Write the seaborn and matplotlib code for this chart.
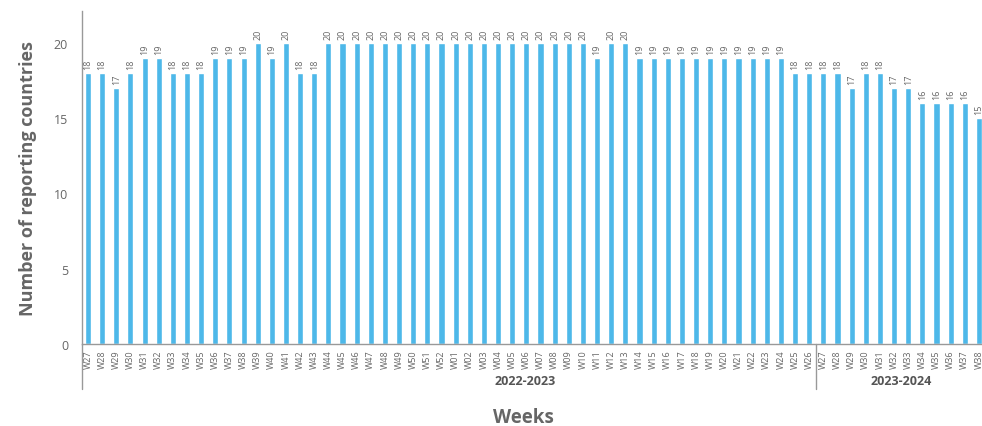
import matplotlib
matplotlib.use("Agg")
import matplotlib.pyplot as plt
import matplotlib.transforms as mtransforms
import seaborn as sns
import pandas as pd

season1_weeks = ["W27", "W28", "W29", "W30", "W31", "W32", "W33", "W34", "W35", "W36",
                 "W37", "W38", "W39", "W40", "W41", "W42", "W43", "W44", "W45", "W46",
                 "W47", "W48", "W49", "W50", "W51", "W52", "W01", "W02", "W03", "W04",
                 "W05", "W06", "W07", "W08", "W09", "W10", "W11", "W12", "W13", "W14",
                 "W15", "W16", "W17", "W18", "W19", "W20", "W21", "W22", "W23", "W24",
                 "W25", "W26"]
season1_values = [18, 18, 17, 18, 19, 19, 18, 18, 18, 19,
                  19, 19, 20, 19, 20, 18, 18, 20, 20, 20,
                  20, 20, 20, 20, 20, 20, 20, 20, 20, 20,
                  20, 20, 20, 20, 20, 20, 19, 20, 20, 19,
                  19, 19, 19, 19, 19, 19, 19, 19, 19, 19,
                  18, 18]
season2_weeks = ["W27", "W28", "W29", "W30", "W31", "W32", "W33", "W34", "W35", "W36",
                 "W37", "W38"]
season2_values = [18, 18, 17, 18, 18, 17, 17, 16, 16, 16, 16, 15]
seasons = ["2022-2023", "2023-2024"]

df = pd.DataFrame({
    "season": [seasons[0]] * len(season1_weeks) + [seasons[1]] * len(season2_weeks),
    "week": season1_weeks + season2_weeks,
    "value": season1_values + season2_values,
})
df["key"] = df["season"] + " " + df["week"]

sns.set_theme(style="white")
plt.rcParams["font.family"] = ["Open Sans", "DejaVu Sans"]

grey = "#666666"
fig = plt.figure(figsize=(9.82, 4.27), dpi=100)
ax = fig.add_axes([82 / 982, 1 - 345 / 427, 900 / 982, 333 / 427])

sns.barplot(data=df, x="key", y="value", color="#4DB8E9", saturation=1,
            width=0.43, ax=ax, order=list(df["key"]))

for i, v in enumerate(df["value"]):
    ax.text(i, v + 0.25, str(v), rotation=90, ha="center", va="bottom",
            fontsize=6.5, color=grey)

ax.set_xticks(range(len(df)))
ax.set_xticklabels(df["week"], rotation=90, fontsize=6.5, color=grey)
ax.tick_params(axis="x", length=0, pad=4)
ax.set_ylim(0, 22.1)
ax.set_xlim(-0.424, 63.22)
ax.set_yticks([0, 5, 10, 15, 20])
ax.tick_params(axis="y", length=0, pad=10, labelsize=9, labelcolor=grey)
ax.set_xlabel("")
ax.set_ylabel("Number of reporting countries", fontsize=13, color=grey,
              fontweight="bold", labelpad=12)

for s in ["top", "right"]:
    ax.spines[s].set_visible(False)
for s in ["left", "bottom"]:
    ax.spines[s].set_color("#999999")
    ax.spines[s].set_linewidth(1)

trans = mtransforms.blended_transform_factory(ax.transData, ax.transAxes)
n1 = len(season1_weeks)
for xpos in [-0.424, n1 - 0.5]:
    ax.plot([xpos, xpos], [0, -0.135], transform=trans, color="#999999",
            lw=1, clip_on=False)

ax.text(30.9, -0.11, seasons[0], transform=trans, ha="center", va="center",
        fontsize=9, fontweight="bold", color="#555555")
ax.text(57.5, -0.11, seasons[1], transform=trans, ha="center", va="center",
        fontsize=9, fontweight="bold", color="#555555")

fig.text(523 / 982, 1 - 418 / 427, "Weeks", ha="center", va="center",
         fontsize=13.5, fontweight="bold", color=grey)

fig.savefig("out.png", dpi=100)
